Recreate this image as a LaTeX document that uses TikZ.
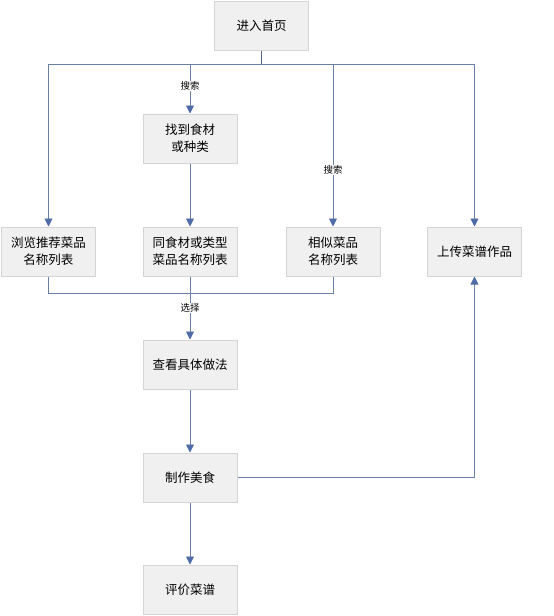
\documentclass[tikz,border=0pt]{standalone}
\usepackage{fontspec}
\setmainfont{Noto Sans CJK SC}
\usetikzlibrary{arrows.meta}
\definecolor{boxfill}{HTML}{F0F0F0}
\definecolor{boxline}{HTML}{D4D4D4}
\definecolor{conn}{HTML}{6A7FA6}
\definecolor{tipc}{HTML}{4F6CA8}
\tikzset{
  stepbox/.style={draw=boxline, fill=boxfill, line width=1pt, minimum width=94pt, minimum height=49pt, inner sep=0pt, align=center, font=\fontsize{12.5pt}{17pt}\selectfont},
  conline/.style={draw=conn, line width=0.9pt},
  arr/.style={conline, -{Triangle[width=8pt,length=8pt,color=tipc]}},
  lbl/.style={fill=white, inner sep=1pt, font=\fontsize{9.5pt}{11pt}\selectfont}
}
\begin{document}
\begin{tikzpicture}[x=1pt,y=-1pt]
\useasboundingbox (0,0) rectangle (554,616);
\node[stepbox] (home) at (261.5,25.5) {进入首页};
\node[stepbox] (find) at (190,138.5) {找到食材\\或种类};
\node[stepbox] (browse) at (48.5,251.5) {浏览推荐菜品\\名称列表};
\node[stepbox] (same) at (190,251.5) {同食材或类型\\菜品名称列表};
\node[stepbox] (similar) at (333,251.5) {相似菜品\\名称列表};
\node[stepbox] (upload) at (474.5,251.5) {上传菜谱作品};
\node[stepbox] (view) at (190,364.5) {查看具体做法};
\node[stepbox] (make) at (190,477.5) {制作美食};
\node[stepbox] (rate) at (190,589.5) {评价菜谱};
\coordinate (bt) at (261.5,64);
\coordinate (bb) at (190,293);
\draw[draw=conn!80!black, line width=1.5pt] (home.south) -- (bt);
\draw[arr] (bt) -| (browse.north);
\draw[arr] (bt) -| (find.north);
\draw[arr] (bt) -| (similar.north);
\draw[arr] (bt) -| (upload.north);
\draw[arr] (find.south) -- (same.north);
\draw[conline] (browse.south) |- (bb);
\draw[conline] (similar.south) |- (bb);
\draw[arr] (same.south) -- (view.north);
\draw[arr] (view.south) -- (make.north);
\draw[arr] (make.south) -- (rate.north);
\draw[arr] (make.east) -| (upload.south);
\node[lbl] (s1) at (190,86) {搜索};
\node[lbl] (s2) at (333,170) {搜索};
\node[lbl] (s3) at (190,308) {选择};
\end{tikzpicture}
\end{document}
